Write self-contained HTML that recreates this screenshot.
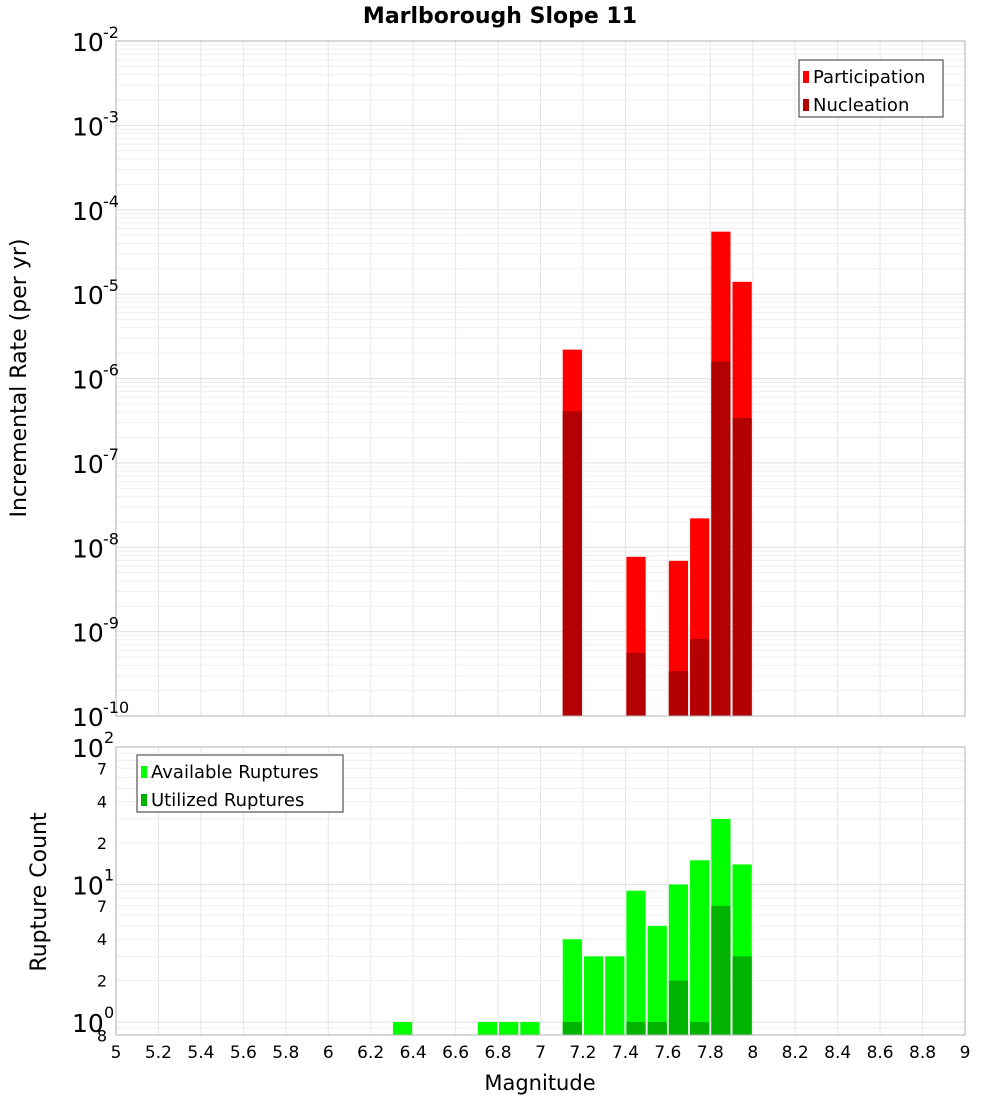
<!DOCTYPE html>
<html><head><meta charset="utf-8"><style>
body{margin:0;background:#fff;}
svg{display:block;font-family:"DejaVu Sans","Liberation Sans",sans-serif;}
</style></head><body>
<svg id="c" width="1000" height="1100" xmlns="http://www.w3.org/2000/svg">
<text x="500" y="23" text-anchor="middle" font-size="22" font-weight="bold">Marlborough Slope 11</text>
<g id="gtop"></g><g id="gbot"></g>
<text x="540" y="1090" text-anchor="middle" font-size="21">Magnitude</text>
<text transform="translate(26,378) rotate(-90)" text-anchor="middle" font-size="22">Incremental Rate (per yr)</text>
<text transform="translate(46,892) rotate(-90)" text-anchor="middle" font-size="22">Rupture Count</text>
</svg>
<script>
const topMags=[7.15,7.45,7.65,7.75,7.85,7.95];
const participation=[2.2e-6,7.7e-9,6.9e-9,2.2e-8,5.5e-5,1.4e-5];
const nucleation=[4.1e-7,5.6e-10,3.4e-10,8.2e-10,1.6e-6,3.4e-7];
const botMags=[6.35,6.75,6.85,6.95,7.15,7.25,7.35,7.45,7.55,7.65,7.75,7.85,7.95];
const available=[1,1,1,1,4,3,3,9,5,10,15,30,14];
const utilized=[0,0,0,0,1,0,0,1,1,2,1,7,3];
const xTicks=[5,5.2,5.4,5.6,5.8,6,6.2,6.4,6.6,6.8,7,7.2,7.4,7.6,7.8,8,8.2,8.4,8.6,8.8,9];
const NS="http://www.w3.org/2000/svg";
const X0=116,X1=965;
const x=m=>X0+(m-5)/4*(X1-X0);
const yT=v=>41+(-2-Math.log10(v))*84.375;
const yB=v=>1022-Math.log10(v)*137.5;
function mk(p,t,a){const e=document.createElementNS(NS,t);for(const k in a)e.setAttribute(k,a[k]);p.appendChild(e);return e;}
const gTop=document.getElementById('gtop'),gBot=document.getElementById('gbot');
function grid(g,yt,yb){
  for(const t of xTicks){const l=mk(g,'line',{x1:x(t),x2:x(t),y1:yt,y2:yb,stroke:'#e6e6e6'});
  
  }
}
grid(gTop,41,716);
for(let d=-10;d<-2;d++)for(let k=1;k<10;k++){const y=yT(k*Math.pow(10,d));
  const l=mk(gTop,'line',{x1:X0,x2:X1,y1:y,y2:y,stroke:k==1?'#e0e0e0':'#efefef'});
  
  }
grid(gBot,747,1035);
for(let d=-1;d<2;d++)for(let k=1;k<10;k++){const v=k*Math.pow(10,d);const y=yB(v);if(y>1035||y<747)continue;
  const l=mk(gBot,'line',{x1:X0,x2:X1,y1:y,y2:y,stroke:k==1?'#e0e0e0':'#efefef'});
  
  }
const bw=0.1*(X1-X0)/4;
topMags.forEach((m,i)=>{
  let r=mk(gTop,'rect',{x:x(m)-bw/2+1,width:bw-2,y:yT(participation[i]),height:716-yT(participation[i]),fill:'#ff0000'});
  
  
  r=mk(gTop,'rect',{x:x(m)-bw/2+1,width:bw-2,y:yT(nucleation[i]),height:716-yT(nucleation[i]),fill:'#b30000'});
  
  
});
botMags.forEach((m,i)=>{
  let r=mk(gBot,'rect',{x:x(m)-bw/2+1,width:bw-2,y:yB(available[i]),height:1035-yB(available[i]),fill:'#00ff00'});
  
  
  if(utilized[i]>0){r=mk(gBot,'rect',{x:x(m)-bw/2+1,width:bw-2,y:yB(utilized[i]),height:1035-yB(utilized[i]),fill:'#00b300'});
  
  }
});
let f=mk(gTop,'rect',{x:X0,y:41,width:X1-X0,height:675,fill:'none',stroke:'#b0b0b0'});


f=mk(gBot,'rect',{x:X0,y:747,width:X1-X0,height:288,fill:'none',stroke:'#b0b0b0'});


for(let d=-10;d<=-2;d++){const y=yT(Math.pow(10,d));
  const t=mk(gTop,'text',{x:72,y:y+10,'font-size':25});t.textContent='10';
  
  
  const s=mk(gTop,'text',{x:103,y:y-3,'font-size':16});s.textContent=String(d);
  
  }
[[100,'2'],[10,'1'],[1,'0']].forEach(([v,e])=>{const y=yB(v);
  const t=mk(gBot,'text',{x:72,y:y+10,'font-size':25});t.textContent='10';
  
  
  const s=mk(gBot,'text',{x:104,y:y-4,'font-size':16});s.textContent=e;
  
  });
[[70,'7'],[40,'4'],[20,'2'],[7,'7'],[4,'4'],[2,'2'],[0.8,'8']].forEach(([v,e])=>{const y=yB(v);
  const t=mk(gBot,'text',{x:107,y:y+6,'font-size':16,'text-anchor':'end'});t.textContent=e;
  
  });
xTicks.forEach(t=>{const e=mk(gBot,'text',{x:x(t),y:1058,'font-size':17,'text-anchor':'middle'});e.textContent=String(t);
  
  });
function legend(g,x0,y0,w,items){const b=mk(g,'rect',{x:x0,y:y0,width:w,height:57,fill:'#fff',stroke:'#333'});
  
  
  items.forEach(([lab,col],i)=>{const sw=mk(g,'rect',{x:x0+4,y:y0+11+i*28,width:6,height:12,fill:col});
    
    
    const t=mk(g,'text',{x:x0+14,y:y0+23+i*28,'font-size':18});t.textContent=lab;
    
    });}
legend(gTop,799,60,144,[['Participation','#ff0000'],['Nucleation','#b30000']]);
legend(gBot,137,755,206,[['Available Ruptures','#00ff00'],['Utilized Ruptures','#00b300']]);
</script>
</body></html>
